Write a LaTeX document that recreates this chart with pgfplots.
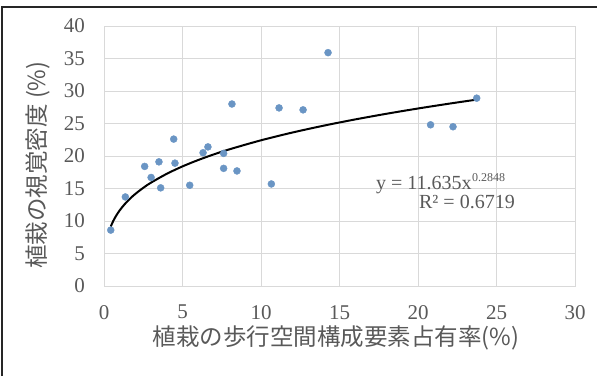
\documentclass[border=0pt]{standalone}
\usepackage{fontspec}
\setmainfont{Liberation Serif}
\newfontfamily\jp{Noto Sans CJK JP}
\usepackage{pgfplots}
\pgfplotsset{compat=1.18}
\definecolor{txt}{HTML}{595959}
\definecolor{grd}{HTML}{D9D9D9}
\definecolor{pt}{HTML}{6A95C4}
\begin{document}
\begin{tikzpicture}[x=1pt,y=1pt]
\useasboundingbox (0,0) rectangle (597,376);
\draw[line width=1.2pt, black!85] (2,0) -- (2,369) -- (597,369);
\begin{axis}[
  at={(104pt,90pt)}, anchor=south west,
  scale only axis, width=471pt, height=260pt,
  xmin=0, xmax=30, ymin=0, ymax=40,
  xtick={0,5,...,30}, ytick={0,5,...,40},
  grid=major, grid style={grd, line width=0.8pt},
  axis line style={grd, line width=0.8pt},
  major tick length=0pt,
  tick label style={font=\fontsize{21}{21}\selectfont, text=txt},
  /pgf/number format/assume math mode=true,
  xticklabel style={anchor=north, inner sep=0pt, yshift=-19pt},
  yticklabel style={anchor=east, inner sep=0pt, xshift=-19pt},
  xlabel={植栽の歩行空間構成要素占有率(\%)},
  ylabel={植栽の視覚密度 (\%)},
  label style={font=\jp\fontsize{23.5}{23.5}\selectfont, text=txt},
  xlabel style={at={(axis description cs:0.493,-0.2)}, anchor=center},
  ylabel style={at={(axis description cs:-0.14,0.465)}, anchor=center},
  clip=false,
]
\addplot[only marks, mark=*, mark size=3.5pt, mark options={fill=pt, draw=pt}] coordinates {
(14.27,35.9) (8.15,28.0) (11.15,27.4) (12.68,27.1) (4.44,22.6) (6.62,21.4)
(6.31,20.5) (7.62,20.4) (2.59,18.4) (3.50,19.1) (4.52,18.9) (7.62,18.1)
(8.47,17.7) (3.00,16.7) (3.61,15.1) (5.46,15.5) (10.66,15.7) (1.36,13.7)
(0.43,8.6) (23.74,28.9) (20.80,24.8) (22.23,24.5)
};
\addplot[black, line width=2pt, smooth] coordinates {
(0.43,9.149) (0.6,10.060) (0.8,10.919) (1,11.635) (1.3,12.538) (1.7,13.533)
(2,14.174) (2.5,15.104) (3,15.909) (4,17.267) (5,18.401) (6,19.381)
(7,20.253) (8,21.036) (10,22.416) (12,23.611) (14,24.671) (16,25.627)
(18,26.501) (20,27.308) (22,28.060) (23.74,28.675)
};
\node[text=txt, font=\fontsize{20}{20}\selectfont, inner sep=0pt, anchor=base west, xshift=-26pt] (eqA) at (axis cs:18.98,14.77) {y = 11.635x};
\node[text=txt, font=\fontsize{12}{12}\selectfont, inner sep=0pt, anchor=base west, yshift=8.5pt] at (eqA.base east) {0.2848};
\node[text=txt, font=\fontsize{20}{20}\selectfont, inner sep=0pt, anchor=base west] at (axis cs:20.06,12.0) {R² = 0.6719};
\end{axis}
\end{tikzpicture}
\end{document}
